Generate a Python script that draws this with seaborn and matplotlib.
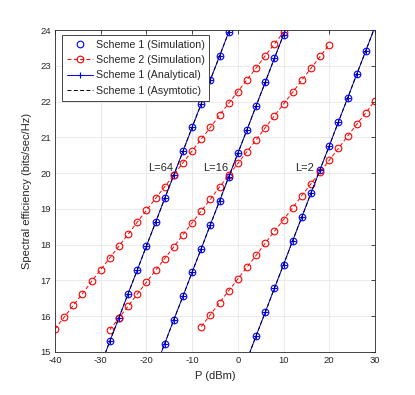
import numpy as np
import matplotlib
matplotlib.use("Agg")
import matplotlib.pyplot as plt
import seaborn as sns
from matplotlib.lines import Line2D

# Data (P in dBm, spectral efficiency in bits/sec/Hz)
# Scheme 1 (simulation / analytical / asymptotic lie on top of each other)
p_s1_L64 = [-30, -28, -26, -24, -22, -20, -18, -16, -14, -12, -10, -8, -6, -4, -2, 0]
se_s1_L64 = [14.63, 15.30, 15.96, 16.63, 17.29, 17.96, 18.62, 19.29, 19.95, 20.61,
             21.28, 21.94, 22.61, 23.27, 23.94, 24.60]

p_s1_L16 = [-18, -16, -14, -12, -10, -8, -6, -4, -2, 0, 2, 4, 6, 8, 10, 12]
se_s1_L16 = [14.57, 15.23, 15.90, 16.56, 17.23, 17.89, 18.56, 19.22, 19.89, 20.55,
             21.21, 21.88, 22.54, 23.21, 23.87, 24.54]

p_s1_L2 = [2, 4, 6, 8, 10, 12, 14, 16, 18, 20, 22, 24, 26, 28, 30]
se_s1_L2 = [14.78, 15.45, 16.11, 16.78, 17.44, 18.11, 18.77, 19.44, 20.10, 20.76,
            21.43, 22.09, 22.76, 23.42, 24.09]

# Scheme 2 (simulation)
p_s2_L64 = [-40, -38, -36, -34, -32, -30, -28, -26, -24, -22, -20, -18, -16, -14,
            -12, -10, -8, -6, -4, -2, 0, 2, 4, 6, 8, 10]
se_s2_L64 = [15.64, 15.97, 16.30, 16.63, 16.97, 17.30, 17.63, 17.96, 18.29, 18.63,
             18.96, 19.29, 19.62, 19.95, 20.29, 20.62, 20.95, 21.28, 21.62, 21.95,
             22.28, 22.61, 22.94, 23.28, 23.61, 23.94]

p_s2_L16 = [-28, -26, -24, -22, -20, -18, -16, -14, -12, -10, -8, -6, -4, -2, 0,
            2, 4, 6, 8, 10, 12, 14, 16, 18, 20]
se_s2_L16 = [15.62, 15.95, 16.28, 16.62, 16.95, 17.28, 17.61, 17.94, 18.28, 18.61,
             18.94, 19.27, 19.61, 19.94, 20.27, 20.60, 20.93, 21.27, 21.60, 21.93,
             22.26, 22.60, 22.93, 23.26, 23.59]

p_s2_L2 = [-8, -6, -4, -2, 0, 2, 4, 6, 8, 10, 12, 14, 16, 18, 20, 22, 24, 26, 28, 30]
se_s2_L2 = [15.71, 16.04, 16.38, 16.71, 17.04, 17.37, 17.70, 18.04, 18.37, 18.70,
            19.03, 19.37, 19.70, 20.03, 20.36, 20.69, 21.03, 21.36, 21.69, 22.02]

curve_labels = ["L=64", "L=16", "L=2"]
label_pos = [(-19.6, 20.13), (-7.55, 20.13), (12.5, 20.13)]

x_ticks = [-40, -30, -20, -10, 0, 10, 20, 30]
y_ticks = [15, 16, 17, 18, 19, 20, 21, 22, 23, 24]

sns.set_style("whitegrid")
plt.rcParams['font.family'] = ['Liberation Sans', 'DejaVu Sans']
plt.rcParams['axes.unicode_minus'] = False

fig = plt.figure(figsize=(4.15, 3.95), dpi=100)
ax = fig.add_axes([0.1325, 0.109, 0.771, 0.815])

s1 = [(p_s1_L64, se_s1_L64), (p_s1_L16, se_s1_L16), (p_s1_L2, se_s1_L2)]
s2 = [(p_s2_L64, se_s2_L64), (p_s2_L16, se_s2_L16), (p_s2_L2, se_s2_L2)]

ms = 4.8
lw = 0.7
dash = (0, (4, 2.5))

# Scheme 1 simulation: blue circles only
for p, se in s1:
    sns.lineplot(x=p, y=se, ax=ax, color="blue", linestyle="none", marker="o",
                 markersize=ms, markerfacecolor="none", markeredgecolor="blue",
                 markeredgewidth=0.8, sort=False)

# Scheme 2 simulation: red dashed with circles
for p, se in s2:
    sns.lineplot(x=p, y=se, ax=ax, color="red", linestyle=dash, linewidth=lw,
                 marker="o", markersize=ms, markerfacecolor="none",
                 markeredgecolor="red", markeredgewidth=0.8, sort=False)

# Scheme 1 analytical: blue solid with plus
for p, se in s1:
    sns.lineplot(x=p, y=se, ax=ax, color="blue", linestyle="-", linewidth=lw,
                 marker="+", markersize=ms, markeredgecolor="blue",
                 markeredgewidth=0.8, sort=False)

# Scheme 1 asymptotic: black dashed
for p, se in s1:
    sns.lineplot(x=p, y=se, ax=ax, color="black", linestyle=dash,
                 linewidth=lw, sort=False)

for txt, (x, y) in zip(curve_labels, label_pos):
    ax.text(x, y, txt, fontsize=8, ha="left", va="center", color="#262626")

ax.set_xlim(-40, 30)
ax.set_ylim(15, 24)
ax.set_xticks(x_ticks)
ax.set_yticks(y_ticks)
ax.set_xlabel("P (dBm)", fontsize=8, color="#262626", labelpad=4)
ax.set_ylabel("Spectral efficiency (bits/sec/Hz)", fontsize=8, color="#262626", labelpad=6)
ax.tick_params(axis="both", labelsize=6.8, colors="#262626", direction="in",
               length=3, width=0.6, top=True, right=True, pad=3)
ax.grid(True, color="#e6e6e6", linewidth=0.6)
for sp in ax.spines.values():
    sp.set_visible(True)
    sp.set_color("#262626")
    sp.set_linewidth(0.6)

handles = [
    Line2D([], [], color="blue", linestyle="none", marker="o", markersize=ms,
           markerfacecolor="none", markeredgewidth=0.8),
    Line2D([], [], color="red", linestyle=dash, linewidth=lw, marker="o",
           markersize=ms, markerfacecolor="none", markeredgewidth=0.8),
    Line2D([], [], color="blue", linestyle="-", linewidth=lw, marker="+",
           markersize=ms, markeredgewidth=0.8),
    Line2D([], [], color="black", linestyle=dash, linewidth=lw),
]
labels = ["Scheme 1 (Simulation)", "Scheme 2 (Simulation)",
          "Scheme 1 (Analytical)", "Scheme 1 (Asymtotic)"]
leg = ax.legend(handles, labels, loc="upper left", bbox_to_anchor=(0.022, 0.985),
                fontsize=7.7, frameon=True, fancybox=False, framealpha=1,
                edgecolor="#262626", handlelength=2.4, labelspacing=0.5,
                borderpad=0.45, handletextpad=0.3, borderaxespad=0)
leg.get_frame().set_linewidth(0.6)

fig.savefig("out.png", dpi=100)
